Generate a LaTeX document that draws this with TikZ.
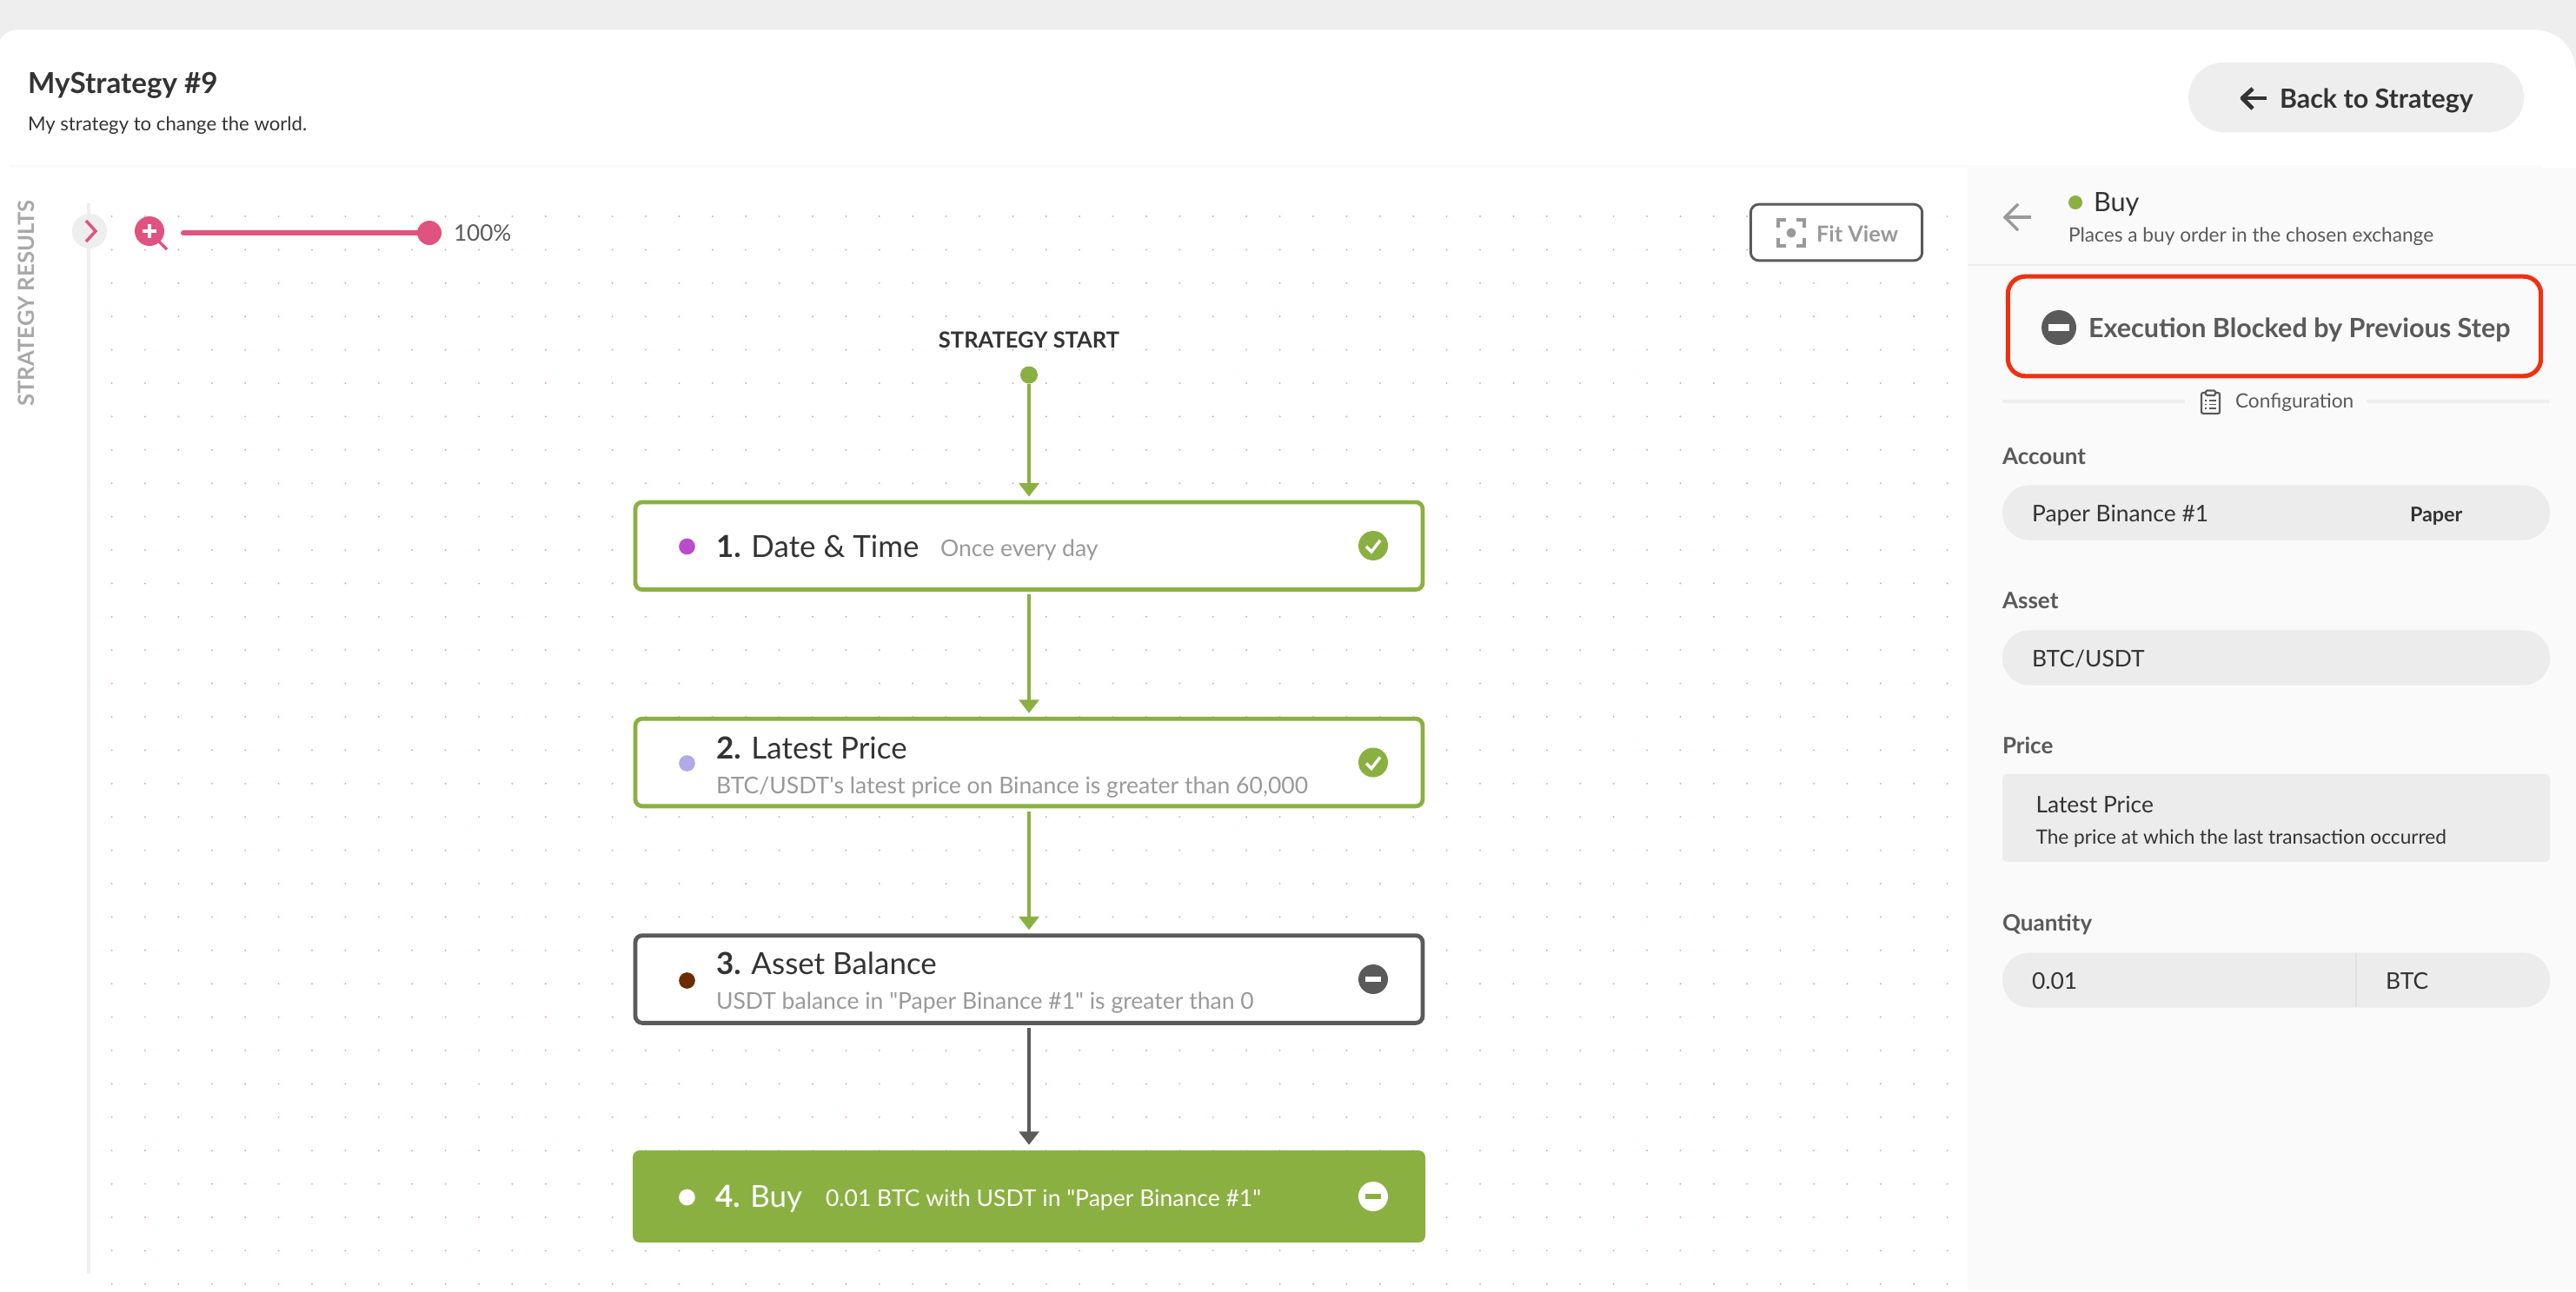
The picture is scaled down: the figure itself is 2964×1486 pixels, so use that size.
\documentclass[tikz,border=0pt]{standalone}
\usepackage{fontspec}
\setmainfont{Lato}
\usetikzlibrary{arrows.meta}

\definecolor{leaf}{HTML}{8BB042}
\definecolor{slate}{HTML}{5A5A5A}
\definecolor{rose}{HTML}{E0527F}
\definecolor{alarm}{HTML}{F03010}
\definecolor{plum}{HTML}{BA4CCC}
\definecolor{lilac}{HTML}{B0ABE4}
\definecolor{umber}{HTML}{6B2C00}
\definecolor{pagegray}{HTML}{EEEEEE}
\definecolor{panelgray}{HTML}{FAFAFA}
\definecolor{fieldgray}{HTML}{ECECEC}
\definecolor{inkgray}{HTML}{333333}
\definecolor{softgray}{HTML}{999999}

\tikzset{every picture/.style={line width=0.75pt}}
\tikzset{
  label/.style={anchor=base west,inner sep=0pt,outer sep=0pt,text=inkgray},
  stepbox/.style={draw=#1,line width=3.6pt,fill=white,rounded corners=6pt,minimum width=679.5pt,minimum height=75.5pt,inner sep=0pt},
  flow/.style={draw=#1,line width=3pt,-{Triangle[length=11.5pt,width=17pt]}},
  pill/.style={fill=fieldgray,rounded corners=23.5pt,minimum width=472.5pt,minimum height=47.5pt,inner sep=0pt},
  roundel/.style={circle,fill=#1,inner sep=0pt,minimum size=25.5pt},
  stepdot/.style={circle,fill=#1,inner sep=0pt,minimum size=14pt},
  steptitle/.style={label,font=\fontsize{26.2}{30}\selectfont},
  stepnote/.style={label,text=softgray,font=\fontsize{19.9}{24}\selectfont},
  fieldname/.style={label,text=slate,font=\fontsize{19.5}{24}\selectfont\bfseries},
  fieldtext/.style={label,font=\fontsize{19.8}{24}\selectfont}
}

\begin{document}
\begin{tikzpicture}[x=0.75pt,y=0.75pt,yscale=-1,xscale=1]
\useasboundingbox (0,0) rectangle (2964,1486);

%Page and card
\fill [pagegray] (0,0) rectangle (2964,1486);
\fill [white] (0,1486) -- (0,46) .. controls (4,38) and (12,34) .. (24,34) -- (2912,34) .. controls (2944,34) and (2964,54) .. (2964,86) -- (2964,1486) -- cycle;
\draw [color=panelgray,line width=2.25pt] (12,191) -- (2924,191);
\fill [panelgray] (2264,193) rectangle (2964,1486);

%Canvas dots
\foreach \i in {0,...,55}
  \foreach \j in {0,...,32}
    \fill [rose!55!white] ({128.6+38.4*\i},{249+38.4*\j}) circle (1.1);

% Text Node
\draw (32,107) node [label,font=\fontsize{24.9}{30}\selectfont\bfseries] (title) {MyStrategy \#9};
% Text Node
\draw (32,150) node [label,font=\fontsize{16.6}{22}\selectfont] (subtitle) {My strategy to change the world.};

%Back button
\draw (2711,112) node [pill,minimum width=289.5pt,minimum height=60pt,rounded corners=30pt,fill=pagegray] (backbtn) {};
\draw (2623,124) node [label,font=\fontsize{22.8}{28}\selectfont\bfseries] (backtext) {Back to Strategy};
\draw [color=inkgray,line width=3.6pt] (2608,113) -- (2581,113);
\draw [color=inkgray,line width=3.6pt,line join=round] (2592,102) -- (2580,113) -- (2592,125);

%Sidebar
\draw (30,349) node [rotate=90,inner sep=0pt,text=softgray!85!white,font=\fontsize{19.2}{22}\selectfont\bfseries] (results) {STRATEGY RESULTS};
\draw [color=pagegray,line width=3pt] (102,234) -- (102,1466);
\draw (103,266) node [circle,fill=pagegray,inner sep=0pt,minimum size=30pt] (togglebtn) {};
\draw [color=rose,line width=2.6pt] (99,254) -- (110,266) -- (99,278);

%Zoom slider
\draw (172,266) node [roundel=rose] (zoomicon) {};
\draw [color=white,line width=3pt] (164,266) -- (180,266) (172,258) -- (172,274);
\draw [color=rose,line width=2.6pt] (183,278) -- (192,287);
\draw (494,268) node [circle,fill=rose,inner sep=0pt,minimum size=21pt] (zoomknob) {};
\coordinate (zoomstart) at (211,268);
\draw [color=rose,line width=4.5pt,line cap=round] (zoomstart) -- (zoomknob);
\draw (522,277) node [label,text=slate,font=\fontsize{19.6}{24}\selectfont] (zoomtext) {100\%};

%Fit view
\draw (2113,267.5) node [draw=slate,line width=2.2pt,fill=white,rounded corners=7pt,minimum width=148pt,minimum height=48.5pt,inner sep=0pt] (fitbtn) {};
\draw (2090,278) node [label,text=softgray,font=\fontsize{19}{24}\selectfont\bfseries] (fittext) {Fit View};
\draw [color=softgray,line width=2.6pt]
  (2046,262) -- (2046,253) -- (2055,253) (2067,253) -- (2076,253) -- (2076,262)
  (2046,274) -- (2046,283) -- (2055,283) (2067,283) -- (2076,283) -- (2076,274);
\fill [softgray] (2061,268) circle (5.5);

%Flow
\draw (1184,391) node [inner sep=0pt,text=inkgray,font=\fontsize{19.1}{24}\selectfont\bfseries] (starttext) {STRATEGY START};
\draw (1184,431.5) node [circle,fill=leaf,inner sep=0pt,minimum size=15pt] (startdot) {};

\draw (1184,628.25) node [stepbox=leaf] (step1) {};
\draw (1184,877.5) node [stepbox=leaf] (step2) {};
\draw (1184,1127) node [stepbox=slate] (step3) {};
\draw (1184,1377) node [stepbox=leaf,draw=none,fill=leaf,minimum width=684pt,minimum height=79.5pt] (step4) {};

\draw [flow=leaf] (startdot) -- ([yshift=-3pt]step1.north);
\draw [flow=leaf] ([yshift=2.6pt]step1.south) -- ([yshift=-3pt]step2.north);
\draw [flow=leaf] ([yshift=2.6pt]step2.south) -- ([yshift=-3pt]step3.north);
\draw [flow=slate] ([yshift=2.6pt]step3.south) -- ([yshift=-3pt]step4.north);

% Step one
\draw (790.5,629) node [stepdot=plum] (dot1) {};
\draw (824,641) node [steptitle] (title1) {\textbf{1.} Date \& Time};
\draw (1082,640) node [stepnote] (note1) {Once every day};
\draw (1580,628) node [roundel=leaf] (state1) {};
\draw [color=white,line width=2.6pt] (1572,629) -- (1578,635) -- (1588,622);

% Step two
\draw (790.5,878.5) node [stepdot=lilac] (dot2) {};
\draw (824,873) node [steptitle] (title2) {\textbf{2.} Latest Price};
\draw (824,913) node [stepnote] (note2) {BTC/USDT\textquotesingle s latest price on Binance is greater than 60,000};
\draw (1580,877.5) node [roundel=leaf] (state2) {};
\draw [color=white,line width=2.6pt] (1572,878.5) -- (1578,884.5) -- (1588,871.5);

% Step three
\draw (790.5,1128.5) node [stepdot=umber] (dot3) {};
\draw (824,1121) node [steptitle] (title3) {\textbf{3.} Asset Balance};
\draw (824,1161) node [stepnote] (note3) {USDT balance in \textquotedbl Paper Binance \#1\textquotedbl{} is greater than 0};
\draw (1580,1127) node [roundel=slate] (state3) {};
\fill [white] (1571,1124) rectangle (1589,1130);

% Step four
\draw (790.5,1378) node [stepdot=white] (dot4) {};
\draw (823,1389) node [steptitle,text=white] (title4) {\textbf{4.} Buy};
\draw (950,1388) node [stepnote,text=white] (note4) {0.01 BTC with USDT in \textquotedbl Paper Binance \#1\textquotedbl};
\draw (1580,1377) node [roundel=white] (state4) {};
\fill [leaf] (1571,1374) rectangle (1589,1380);

%Panel head
\draw [color=softgray,line width=2.6pt] (2337,250) -- (2308,250);
\draw [color=softgray,line width=2.6pt] (2322,235) -- (2307,250) -- (2322,265);
\draw (2388,233) node [stepdot=leaf,minimum size=12pt] (buydot) {};
\draw (2409,243) node [label,font=\fontsize{23}{28}\selectfont] (buytext) {Buy};
\draw (2380,278) node [label,text=slate,font=\fontsize{17}{22}\selectfont] (buynote) {Places a buy order in the chosen exchange};
\draw [color=pagegray,line width=1.5pt] (2264,305) -- (2964,305);

%Blocked notice
\draw (2617,375.5) node [draw=alarm,line width=3.8pt,fill=panelgray,rounded corners=15pt,minimum width=460pt,minimum height=86pt,inner sep=0pt] (blockedbox) {};
\draw (2369,377) node [circle,fill=slate,inner sep=0pt,minimum size=30pt] (blockedicon) {};
\fill [white] (2357,373) rectangle (2381,381);
\draw (2403,388) node [label,text=slate,font=\fontsize{22.9}{28}\selectfont\bfseries] (blockedtext) {Execution Blocked by Previous Step};

%Configuration divider
\draw (2572,469) node [label,text=slate,font=\fontsize{17}{22}\selectfont] (configtext) {Configuration};
\coordinate (ruleA) at (2304,462);
\coordinate (ruleB) at (2514,462);
\coordinate (ruleC) at (2723,462);
\coordinate (ruleD) at (2933,462);
\draw [color=pagegray,line width=2.4pt] (ruleA) -- (ruleB) (ruleC) -- (ruleD);
\draw [color=slate,line width=1.6pt,rounded corners=1.5pt] (2538,452) -- (2533,452) -- (2533,476) -- (2554,476) -- (2554,452) -- (2549,452);
\draw [color=slate,line width=1.6pt,rounded corners=1pt] (2538,449.5) rectangle (2549,455);
\draw [color=slate,line width=1.4pt] (2537,461) -- (2539,461) (2542,461) -- (2550,461) (2537,465.5) -- (2539,465.5) (2542,465.5) -- (2550,465.5) (2537,470) -- (2539,470) (2542,470) -- (2550,470);

%Fields
\draw (2304,534.5) node [fieldname] (accountname) {Account};
\draw (2619,590) node [pill] (accountfield) {};
\draw (2338,600.5) node [fieldtext] (accounttext) {Paper Binance \#1};
\draw (2773,600) node [label,font=\fontsize{17.5}{20}\selectfont\bfseries] (papertag) {Paper};

\draw (2304,700) node [fieldname] (assetname) {Asset};
\draw (2619,757) node [pill] (assetfield) {};
\draw (2338,767) node [fieldtext] (assettext) {BTC/USDT};

\draw (2304,867) node [fieldname] (pricename) {Price};
\draw (2619,941.5) node [pill,rounded corners=4.5pt,minimum height=76pt] (pricefield) {};
\draw (2342.5,935) node [fieldtext] (pricetext) {Latest Price};
\draw (2342.5,971) node [label,font=\fontsize{17}{22}\selectfont] (pricenote) {The price at which the last transaction occurred};

\draw (2304,1071.5) node [fieldname] (quantityname) {Quantity};
\draw (2619,1128) node [pill] (quantityfield) {};
\draw (2338,1138.5) node [fieldtext] (quantitytext) {0.01};
\draw (2745,1138.5) node [fieldtext] (quantityunit) {BTC};
\draw [color=pagegray!95!black,line width=1pt] (2711,1097) -- (2711,1159);

\end{tikzpicture}
\end{document}
